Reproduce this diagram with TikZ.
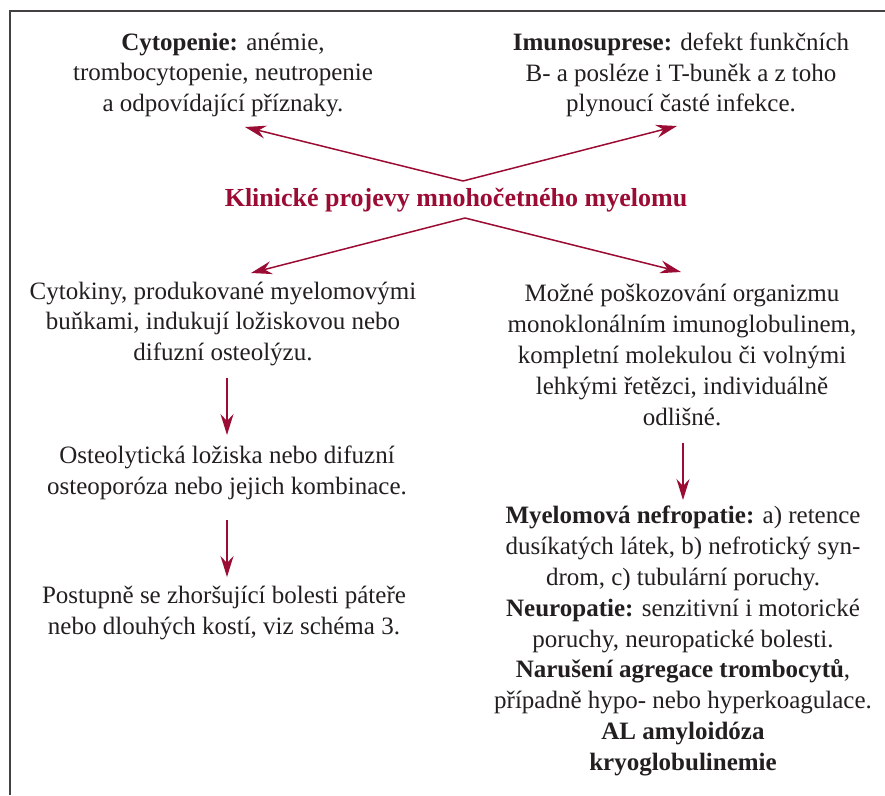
\documentclass[tikz,border=0pt]{standalone}
\usepackage{fontspec}
\setmainfont{Liberation Serif}
\usetikzlibrary{arrows.meta}
\definecolor{myred}{RGB}{155,12,52}
\definecolor{txt}{RGB}{35,31,32}
\begin{document}
\begin{tikzpicture}[x=1pt,y=-1pt,
  txtnode/.style={align=center,inner sep=0pt,text=txt,font=\fontsize{25}{30.8}\selectfont},
  arr/.style={draw=myred,line width=1.5pt,-{Stealth[length=21pt,width=13pt,inset=7pt]}},
  frame/.style={draw=txt!85,line width=1.4pt}]
\useasboundingbox (0,0) rectangle (885,795);
\draw[frame] (10,795) -- (10,11) -- (885,11);

\node[txtnode] (cyto) at (223,75) {\textbf{Cytopenie:} anémie,\\trombocytopenie, neutropenie\\a odpovídající příznaky.};
\node[txtnode] (imuno) at (681,75) {\textbf{Imunosuprese:} defekt funkčních\\B- a posléze i T-buněk a z toho\\plynoucí časté infekce.};
\node[txtnode,text=myred,font=\fontsize{26}{30.8}\selectfont\bfseries] (title) at (456,200) {Klinické projevy mnohočetného myelomu};
\node[txtnode] (cytok) at (223,324) {Cytokiny, produkované myelomovými\\buňkami, indukují ložiskovou nebo\\difuzní osteolýzu.};
\node[txtnode] (osteo) at (227,473) {Osteolytická ložiska nebo difuzní\\osteoporóza nebo jejich kombinace.};
\node[txtnode] (bol) at (224,613) {Postupně se zhoršující bolesti páteře\\nebo dlouhých kostí, viz schéma 3.};
\node[txtnode] (mozne) at (682,355) {Možné poškozování organizmu\\monoklonálním imunoglobulinem,\\kompletní molekulou či volnými\\lehkými řetězci, individuálně\\odlišné.};
\node[txtnode] (nefro) at (683,641) {\textbf{Myelomová nefropatie:} a) retence\\dusíkatých látek, b) nefrotický syn-\\drom, c) tubulární poruchy.\\\textbf{Neuropatie:} senzitivní i motorické\\poruchy, neuropatické bolesti.\\\textbf{Narušení agregace trombocytů},\\případně hypo- nebo hyperkoagulace.\\\textbf{AL amyloidóza}\\\textbf{kryoglobulinemie}};

\coordinate (apexT) at (463,181);
\coordinate (apexB) at (465,218);
\coordinate (tipTL) at (245,127);
\coordinate (tipTR) at (677,126);
\coordinate (tipBL) at (251,273);
\coordinate (tipBR) at (681,272);
\draw[arr] (apexT) -- (tipTL);
\draw[arr] (apexT) -- (tipTR);
\draw[arr] (apexB) -- (tipBL);
\draw[arr] (apexB) -- (tipBR);

\coordinate (a1s) at (227,378);
\coordinate (a1e) at (227,435);
\coordinate (a2s) at (227,520);
\coordinate (a2e) at (227,577);
\coordinate (a3s) at (683,443);
\coordinate (a3e) at (683,500);
\draw[arr] (a1s) -- (a1e);
\draw[arr] (a2s) -- (a2e);
\draw[arr] (a3s) -- (a3e);
\end{tikzpicture}
\end{document}
